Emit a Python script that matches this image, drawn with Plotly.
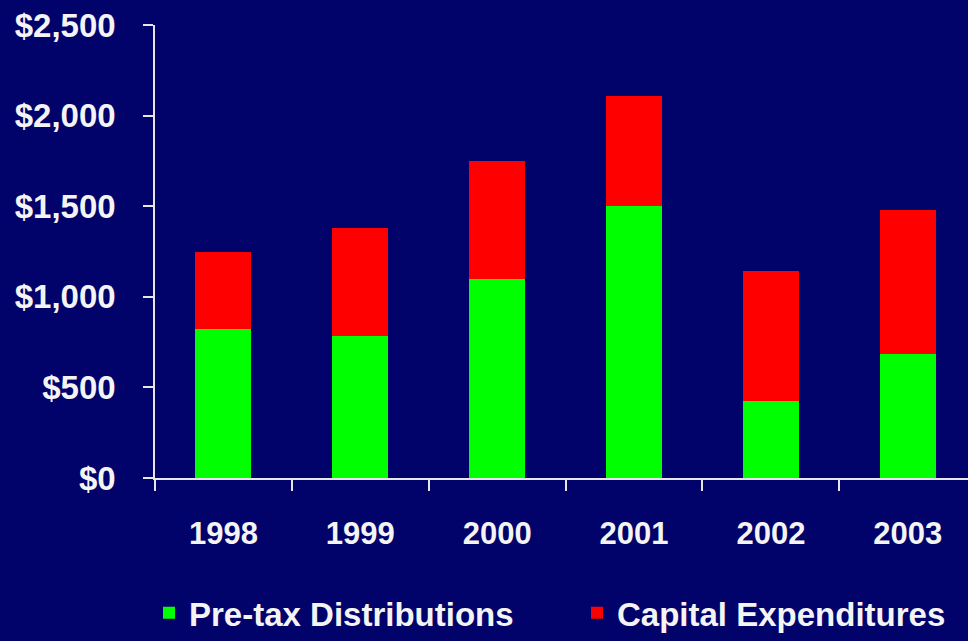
import plotly.graph_objects as go

# Annual figures ($)
years = ["1998", "1999", "2000", "2001", "2002", "2003"]
pretax_distributions = [820, 785, 1100, 1500, 425, 685]
capital_expenditures = [430, 595, 650, 610, 715, 795]

y_ticks = [0, 500, 1000, 1500, 2000, 2500]
y_tick_labels = ["$0", "$500", "$1,000", "$1,500", "$2,000", "$2,500"]

BG = "#02026b"
AXIS = "#e6e6e6"
TEXT = "#f4f4f4"
FAMILY = "Liberation Sans, Arial, sans-serif"
FONT = dict(family=FAMILY, color=TEXT, size=31, weight="bold")

fig = go.Figure()
fig.add_trace(go.Bar(
    x=years, y=pretax_distributions, name="Pre-tax Distributions",
    marker=dict(color="#00ff00", line=dict(width=0)), width=0.41,
    legend="legend",
))
fig.add_trace(go.Bar(
    x=years, y=capital_expenditures, name="Capital Expenditures",
    marker=dict(color="#ff0000", line=dict(width=0)), width=0.41,
    legend="legend2",
))

legend_common = dict(
    orientation="h", xref="container", yref="container",
    xanchor="left", yanchor="middle", y=0.044,
    font=dict(family=FAMILY, size=33, weight="bold", color=TEXT),
    bgcolor="rgba(0,0,0,0)", itemclick=False,
)

fig.update_layout(
    width=968, height=641,
    barmode="stack",
    paper_bgcolor=BG, plot_bgcolor=BG,
    font=FONT,
    margin=dict(l=155, r=0, t=25, b=163, pad=0, autoexpand=False),
    showlegend=True,
    legend=dict(x=149 / 968, **legend_common),
    legend2=dict(x=577 / 968, **legend_common),
    xaxis=dict(
        type="category", range=[-0.5, 5.44],
        showline=True, linecolor=AXIS, linewidth=1.5,
        ticks="outside", tickson="boundaries", ticklen=11, tickwidth=1.5, tickcolor=AXIS,
        showgrid=False, zeroline=False,
        ticklabelstandoff=27,
    ),
    yaxis=dict(
        range=[0, 2500], tickvals=y_ticks, ticktext=y_tick_labels,
        tickfont=dict(family=FAMILY, size=33, weight="bold", color=TEXT),
        showline=True, linecolor=AXIS, linewidth=1.5,
        ticks="outside", ticklen=10, tickwidth=1.5, tickcolor=AXIS,
        showgrid=False, zeroline=False,
        ticklabelstandoff=21,
    ),
)

fig.write_html("out.html")
